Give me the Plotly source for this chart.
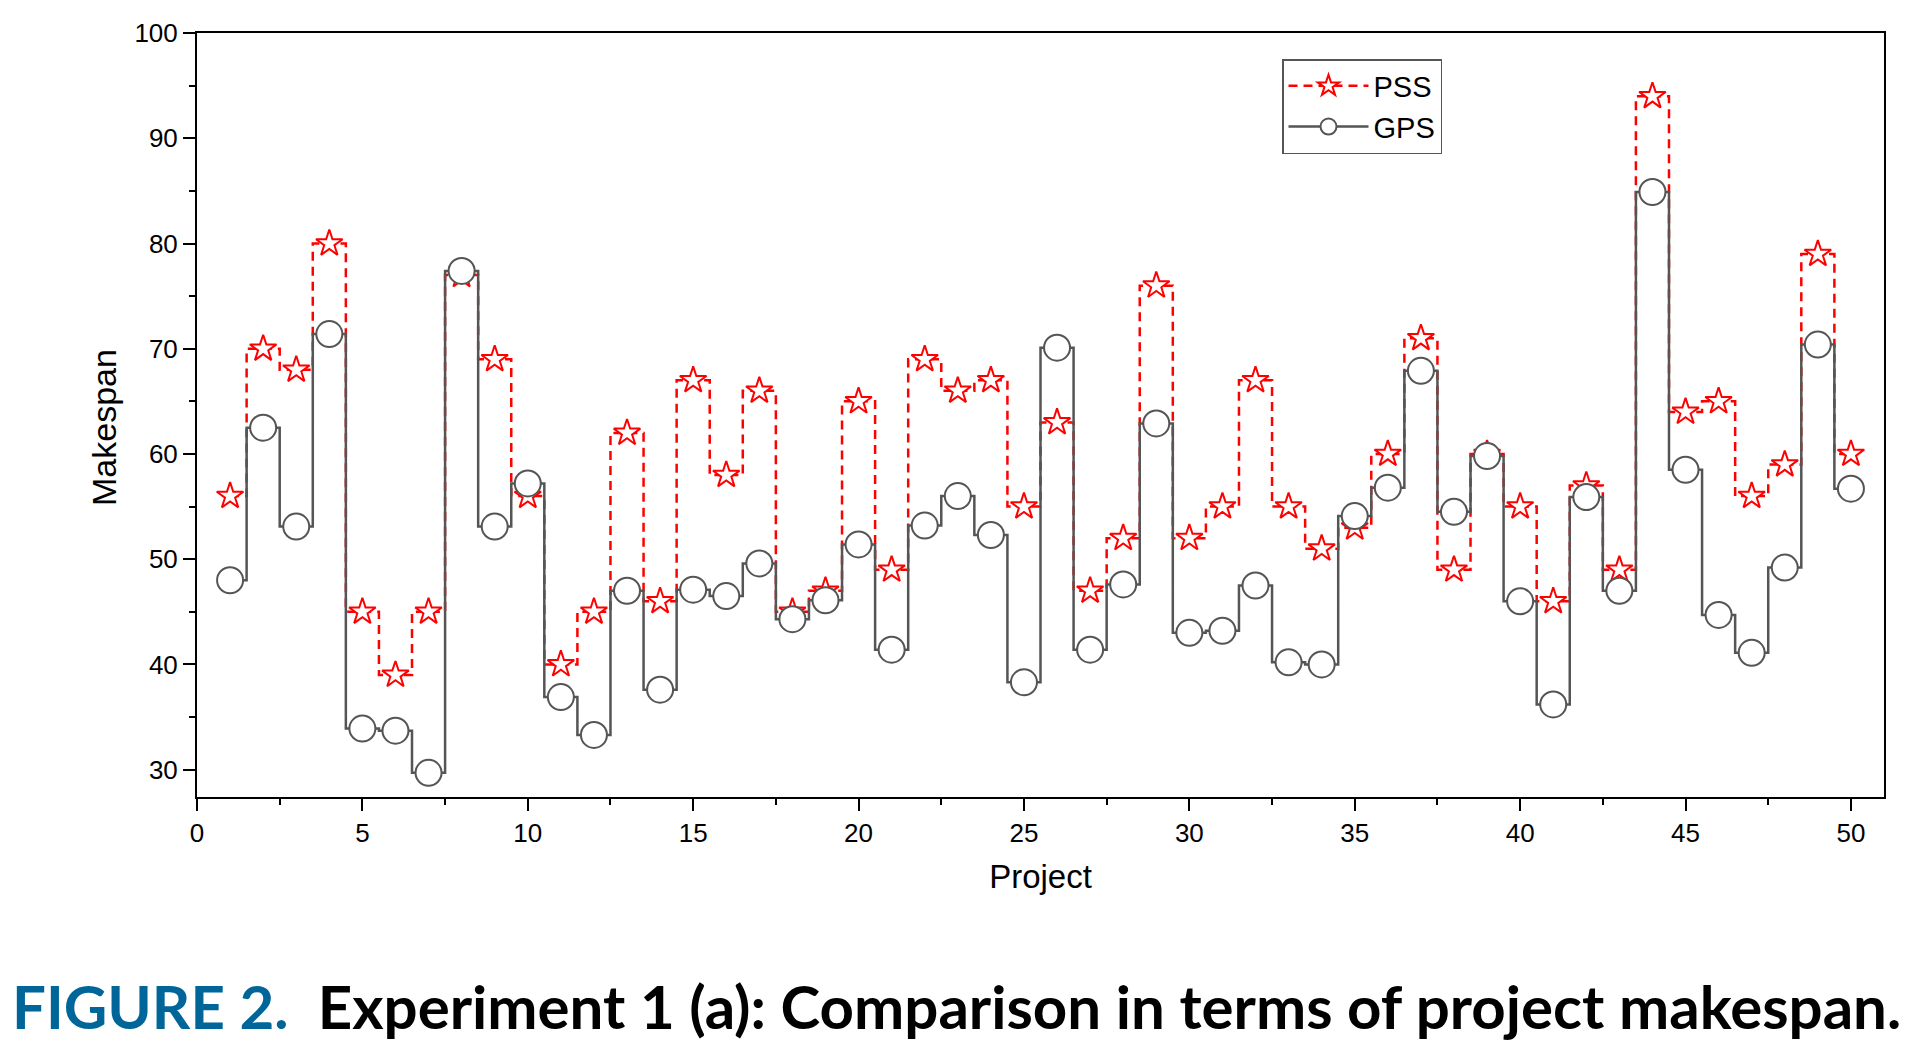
import plotly.graph_objects as go

projects = list(range(1, 51))

pss_makespan = [56, 70, 68, 80, 45, 39, 45, 77, 69, 56,
                40, 45, 62, 46, 67, 58, 66, 45, 47, 65,
                49, 69, 66, 67, 55, 63, 47, 52, 76, 52,
                55, 67, 55, 51, 53, 60, 71, 49, 60, 55,
                46, 57, 49, 94, 64, 65, 56, 59, 79, 60]

gps_makespan = [48.0, 62.5, 53.1, 71.4, 33.9, 33.7, 29.7, 77.4, 53.1, 57.2,
                36.9, 33.3, 47.0, 37.6, 47.1, 46.5, 49.6, 44.3, 46.1, 51.4,
                41.4, 53.2, 56.0, 52.3, 38.3, 70.1, 41.4, 47.6, 62.9, 43.0,
                43.2, 47.5, 40.2, 40.0, 54.1, 56.8, 67.9, 54.5, 59.8, 46.0,
                36.2, 55.9, 47.0, 84.9, 58.5, 44.7, 41.1, 49.2, 70.4, 56.7]

x_ticks = [0, 5, 10, 15, 20, 25, 30, 35, 40, 45, 50]
y_ticks = [30, 40, 50, 60, 70, 80, 90, 100]

FONT = "Arial, Liberation Sans, Helvetica, sans-serif"
GRAY = "#555555"
RED = "#ff0000"

fig = go.Figure()

fig.add_trace(go.Scatter(
    x=projects, y=pss_makespan, name="PSS", mode="lines+markers",
    line=dict(color=RED, width=2.5, dash="9px,6px", shape="hvh"),
    marker=dict(symbol="star", size=20, color="white",
                line=dict(color=RED, width=2)),
))

fig.add_trace(go.Scatter(
    x=projects, y=gps_makespan, name="GPS", mode="lines+markers",
    line=dict(color=GRAY, width=2.5, shape="hvh"),
    marker=dict(symbol="circle", size=26, color="white",
                line=dict(color=GRAY, width=2)),
))

axis_common = dict(
    showline=True, linecolor="black", linewidth=2, mirror=True,
    ticks="outside", ticklen=12, tickwidth=2, tickcolor="black",
    showgrid=False, zeroline=False,
    tickfont=dict(family=FONT, size=26, color="black"),
)

fig.update_xaxes(
    range=[0, 51], tickvals=x_ticks, ticktext=[str(v) for v in x_ticks],
    minor=dict(dtick=2.5, tick0=0, ticks="outside", ticklen=6, tickwidth=2,
               tickcolor="black", showgrid=False),
    title=dict(text="Project", font=dict(family=FONT, size=33, color="black"),
               standoff=18),
    **axis_common,
)
fig.update_yaxes(
    range=[27.4, 100.01], tickvals=y_ticks, ticktext=[str(v) for v in y_ticks],
    minor=dict(dtick=5, tick0=0, ticks="outside", ticklen=6, tickwidth=2,
               tickcolor="black", showgrid=False),
    **axis_common,
)

fig.update_layout(
    width=1918, height=1044,
    margin=dict(l=197, r=34, t=33, b=247, autoexpand=False),
    paper_bgcolor="white", plot_bgcolor="white",
    showlegend=True,
    legend=dict(
        x=(1282 - 197) / 1687, y=(797 - 59) / 764,
        xanchor="left", yanchor="top",
        bgcolor="white", bordercolor=GRAY, borderwidth=1.5,
        font=dict(family=FONT, size=29, color="black"),
        itemwidth=80, tracegroupgap=0,
    ),
    annotations=[
        dict(
            xref="paper", yref="paper",
            x=(104 - 197) / 1687, y=(797 - 428) / 764,
            xanchor="center", yanchor="middle", showarrow=False,
            textangle=-90, text="Makespan",
            font=dict(family=FONT, size=34, color="black"),
        ),
        dict(
            xref="paper", yref="paper",
            x=(10 - 197) / 1687, y=(797 - 1006) / 764,
            xanchor="left", yanchor="middle", showarrow=False,
            text=("<b><span style='color:#006699'>FIGURE 2.</span>"
                  "&nbsp;&nbsp;Experiment 1 (a): Comparison in terms of project makespan.</b>"),
            font=dict(family="Lato, sans-serif", size=60, color="black"),
        ),
    ],
)

fig.write_html("out.html")
